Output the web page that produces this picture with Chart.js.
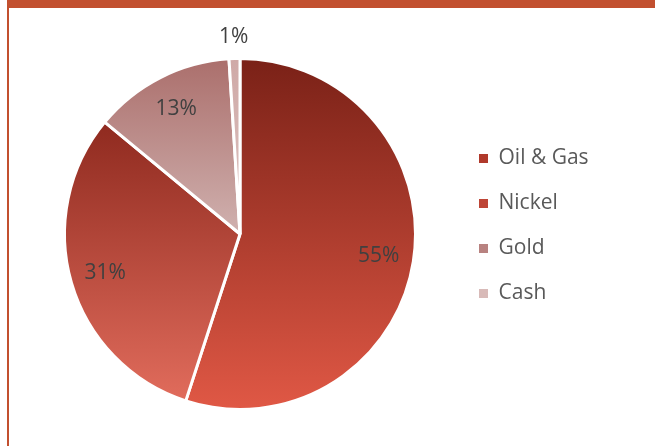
<!DOCTYPE html>
<html>
<head>
<meta charset="utf-8">
<script src="https://cdn.jsdelivr.net/npm/chart.js@4"></script>
<style>
  html, body { margin: 0; padding: 0; background: #fff; overflow: hidden; }
  #frame { position: absolute; left: 7px; top: 0; width: 700px; height: 500px;
           border-top: 8px solid #C2502F; border-left: 2px solid #C2502F; box-sizing: border-box; }
  #wrap { position: absolute; left: 0; top: 0; width: 655px; height: 446px; }
</style>
</head>
<body>
<div id="frame"></div>
<div id="wrap"><canvas id="c"></canvas></div>
<script>
const categories = ['Oil & Gas', 'Nickel', 'Gold', 'Cash'];
const values = [55, 31, 13, 1];
const topColors = ['#7A2117', '#8F2A1F', '#AB6F6C', '#CFA9A7'];
const bottomColors = ['#E05845', '#E16C5C', '#D0B1AF', '#DDC3C1'];
const legendColors = ['#B0392B', '#BE4536', '#B88280', '#D8BAB8'];

const FONT = '"Open Sans", "Noto Sans", sans-serif';
const FS = 21;

// measure widest legend label so the legend sits where the reference has it
const mctx = document.createElement('canvas').getContext('2d');
mctx.font = FS + 'px ' + FONT;
const maxText = Math.max(...categories.map(t => mctx.measureText(t).width));
const boxW = 9, legPad = 24;
const legendWidth = boxW + FS / 2 + maxText + legPad + 10;
const legendLeft = 455;
const padRight = Math.max(0, 655 - legendLeft - legendWidth);

function arcExtent(el) {
  const {x, y, startAngle, endAngle, outerRadius} = el.getProps(['x','y','startAngle','endAngle','outerRadius'], true);
  let ys = [y, y + outerRadius * Math.sin(startAngle), y + outerRadius * Math.sin(endAngle)];
  const TAU = Math.PI * 2;
  for (const a of [-Math.PI / 2, Math.PI / 2]) {
    for (let k = -2; k <= 2; k++) {
      const t = a + k * TAU;
      if (t >= startAngle && t <= endAngle) ys.push(y + outerRadius * Math.sin(t));
    }
  }
  return [Math.min(...ys), Math.max(...ys)];
}

const gradientPlugin = {
  id: 'sliceGradient',
  beforeDatasetsDraw(chart) {
    const ctx = chart.ctx;
    const meta = chart.getDatasetMeta(0);
    meta.data.forEach((el, i) => {
      const [y0, y1] = arcExtent(el);
      const g = ctx.createLinearGradient(0, y0, 0, y1);
      g.addColorStop(0, topColors[i]);
      g.addColorStop(1, bottomColors[i]);
      el.options.backgroundColor = g;
    });
  }
};

const labelPlugin = {
  id: 'sliceLabels',
  afterDatasetsDraw(chart) {
    const ctx = chart.ctx;
    const meta = chart.getDatasetMeta(0);
    ctx.save();
    ctx.font = FS + 'px ' + FONT;
    ctx.fillStyle = '#404040';
    ctx.textAlign = 'center';
    ctx.textBaseline = 'middle';
    meta.data.forEach((el, i) => {
      const {x, y, startAngle, endAngle, outerRadius} = el.getProps(['x','y','startAngle','endAngle','outerRadius'], true);
      const mid = (startAngle + endAngle) / 2;
      const r = values[i] < 5 ? outerRadius + 22 : outerRadius * 0.8;
      ctx.fillText(values[i] + '%', x + r * Math.cos(mid), y + r * Math.sin(mid));
    });
    ctx.restore();
  }
};

new Chart(document.getElementById('c'), {
  type: 'pie',
  data: {
    labels: categories,
    datasets: [{
      data: values,
      backgroundColor: legendColors,
      borderColor: '#ffffff',
      borderWidth: 3
    }]
  },
  options: {
    responsive: true,
    maintainAspectRatio: false,
    animation: false,
    layout: { padding: { top: 41, bottom: 35, left: 25, right: padRight } },
    plugins: {
      tooltip: { enabled: false },
      title: { display: true, text: '', padding: { top: 2, bottom: 2 }, font: { size: 10, lineHeight: 1.2 } },
      legend: {
        position: 'right',
        labels: {
          font: { family: FONT, size: FS },
          color: '#595959',
          boxWidth: boxW,
          boxHeight: boxW,
          padding: legPad,
          generateLabels(chart) {
            const items = Chart.overrides.pie.plugins.legend.labels.generateLabels(chart);
            items.forEach((it, i) => {
              it.fillStyle = legendColors[i];
              it.strokeStyle = 'rgba(0,0,0,0)';
              it.lineWidth = 0;
            });
            return items;
          }
        }
      }
    }
  },
  plugins: [gradientPlugin, labelPlugin]
});
</script>
</body>
</html>
